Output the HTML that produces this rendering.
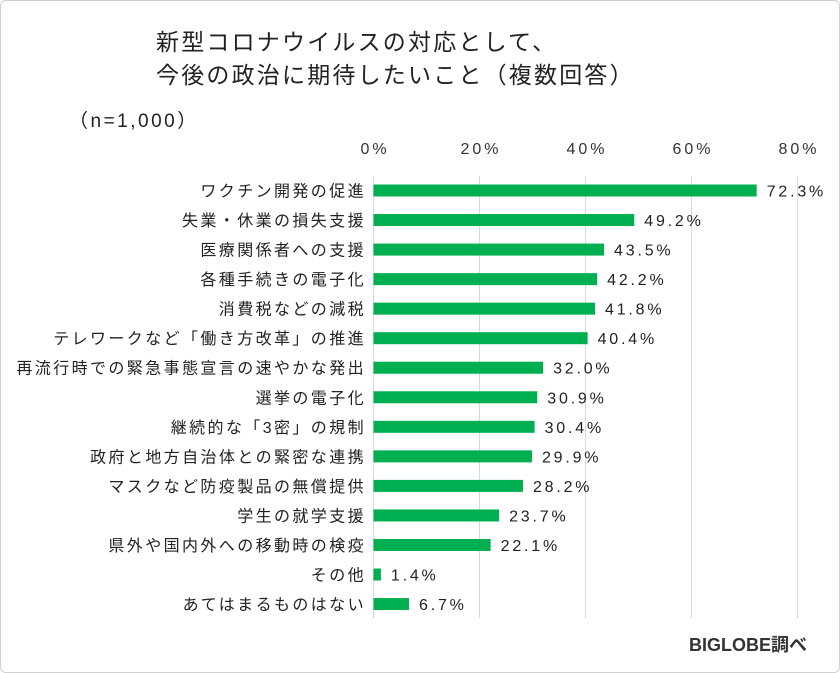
<!DOCTYPE html>
<html><head><meta charset="utf-8">
<style>
html,body{margin:0;padding:0;background:#fff;}
#wrap{position:relative;width:838px;height:671px;border:1px solid #d0d0d0;border-radius:6px;overflow:hidden;font-family:"Liberation Sans","Noto Sans CJK JP",sans-serif;color:#222;}
.t{position:absolute;white-space:nowrap;}
</style></head>
<body>
<div id="wrap">
<div class="t" style="left:155px;top:25px;font-size:23px;letter-spacing:2.2px;line-height:33px;">新型コロナウイルスの対応として、<br>今後の政治に期待したいこと（複数回答）</div>
<div class="t" style="left:68px;top:105px;font-size:19px;letter-spacing:2.5px;">（n=1,000）</div>
<div class="t" style="left:688px;top:630px;font-size:18px;font-weight:bold;color:#333;">BIGLOBE調べ</div>
<svg id="chart" width="840" height="673" style="position:absolute;left:0;top:0;"></svg>
</div>
<script>
const categories=["ワクチン開発の促進","失業・休業の損失支援","医療関係者への支援","各種手続きの電子化","消費税などの減税","テレワークなど「働き方改革」の推進","再流行時での緊急事態宣言の速やかな発出","選挙の電子化","継続的な「3密」の規制","政府と地方自治体との緊密な連携","マスクなど防疫製品の無償提供","学生の就学支援","県外や国内外への移動時の検疫","その他","あてはまるものはない"];
const values=[72.3,49.2,43.5,42.2,41.8,40.4,32.0,30.9,30.4,29.9,28.2,23.7,22.1,1.4,6.7];
const ticks=[0,20,40,60,80];
const NS="http://www.w3.org/2000/svg";
const svg=document.getElementById('chart');
const x0=372.5,x1=796.5,maxV=80;
const xs=v=>x0+(x1-x0)*v/maxV;
const yTop=175,step=29.54,firstC=189.5;
const yc=i=>firstC+i*step;
function mk(tag,attrs){const e=document.createElementNS(NS,tag);for(const k in attrs)e.setAttribute(k,attrs[k]);svg.appendChild(e);return e;}
ticks.forEach(t=>{
  const g=mk('line',{x1:xs(t),x2:xs(t),y1:yTop,y2:617,stroke:'#d9d9d9','stroke-width':1});
  
  
  const tx=mk('text',{x:xs(t)+1.5,y:153,'text-anchor':'middle','font-size':16,'letter-spacing':3,fill:'#333','font-family':'Liberation Sans, sans-serif'});
  tx.textContent=t+'%';
  
  
});
categories.forEach((c,i)=>{
  const y=yc(i);
  const r=mk('rect',{x:xs(0),y:y-6,width:xs(values[i])-xs(0),height:12,fill:'#00b050'});
  
  
  const l=mk('text',{x:365,y:y+6,'text-anchor':'end','font-size':16,'letter-spacing':2.4,fill:'#222','font-family':'Liberation Sans, Noto Sans CJK JP, sans-serif'});
  l.textContent=c;
  
  
  const v=mk('text',{x:xs(values[i])+10,y:y+6,'font-size':16,'letter-spacing':2.8,fill:'#222','font-family':'Liberation Sans, sans-serif'});
  v.textContent=values[i].toFixed(1)+'%';
  
  
});
</script>
</body></html>
